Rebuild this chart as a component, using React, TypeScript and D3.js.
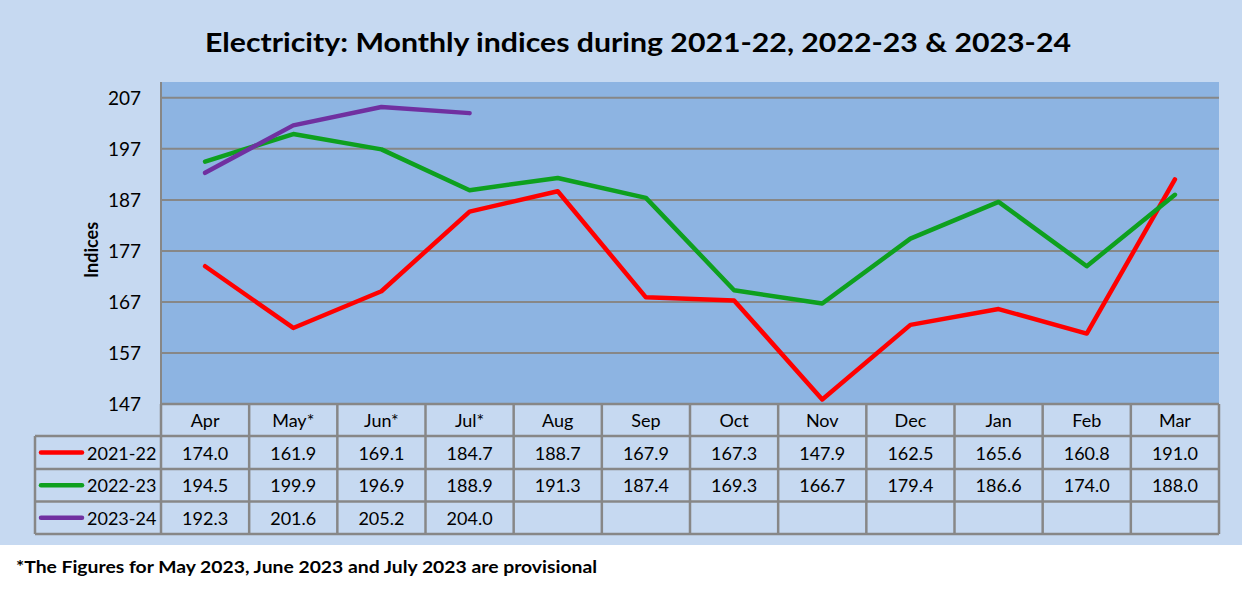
import React from "react";
import * as d3 from "d3";

const months = ["Apr", "May*", "Jun*", "Jul*", "Aug", "Sep", "Oct", "Nov", "Dec", "Jan", "Feb", "Mar"];
const s2021: (number | null)[] = [174.0, 161.9, 169.1, 184.7, 188.7, 167.9, 167.3, 147.9, 162.5, 165.6, 160.8, 191.0];
const s2022: (number | null)[] = [194.5, 199.9, 196.9, 188.9, 191.3, 187.4, 169.3, 166.7, 179.4, 186.6, 174.0, 188.0];
const s2023: (number | null)[] = [192.3, 201.6, 205.2, 204.0, null, null, null, null, null, null, null, null];
const seriesNames = ["2021-22", "2022-23", "2023-24"];
const seriesColors = ["#FF0000", "#0EA01E", "#7030A0"];
const yTicks = [147, 157, 167, 177, 187, 197, 207];

const W = 1242, H = 591;
const plotL = 161, plotR = 1219, plotT = 82, plotB = 404;
const rowH = [404, 436, 469, 501.5, 534];
const tableL = 35;
const outerBg = "#C6D9F1";
const plotBg = "#8DB4E2";
const grid = "#878787";
const FONT = "Lato, 'Open Sans', sans-serif";

export default function App() {
  const x = d3.scaleBand<string>().domain(months).range([plotL, plotR]);
  const y = d3.scaleLinear().domain([147, 210.1]).range([plotB, plotT]);
  const allSeries = [s2021, s2022, s2023];
  const line = d3
    .line<number | null>()
    .defined((d) => d != null)
    .x((_, i) => (x(months[i]) as number) + x.bandwidth() / 2)
    .y((d) => y(d as number));

  const colX = months.map((m) => x(m) as number);

  return (
    <svg width={W} height={H} style={{ position: "absolute", left: 0, top: 0 }} fontFamily={FONT}>
      <rect x={0} y={0} width={W} height={H} fill="#fff" />
      <rect x={0} y={0} width={W} height={545} fill={outerBg} />
      <text x={638} y={52} textAnchor="middle" fontSize={27} fontWeight="bold" fill="#000" textLength={866} lengthAdjust="spacingAndGlyphs">
        Electricity: Monthly indices during 2021-22, 2022-23 &amp; 2023-24
      </text>
      <rect x={plotL} y={plotT} width={plotR - plotL} height={plotB - plotT} fill={plotBg} />
      {yTicks.map((t) => (
        <g key={t}>
          {t !== 147 && <line x1={plotL} x2={plotR} y1={y(t)} y2={y(t)} stroke={grid} strokeWidth={2} />}
          <text x={141} y={y(t) + 7} textAnchor="end" fontSize={19} fill="#000">
            {t}
          </text>
        </g>
      ))}
      <line x1={plotL} x2={plotL} y1={plotT} y2={plotB} stroke={grid} strokeWidth={2} />
      <text transform={`translate(98,250) rotate(-90)`} textAnchor="middle" fontSize={18} fontWeight="bold" fill="#000">
        Indices
      </text>
      {allSeries.map((s, i) => (
        <path key={i} d={line(s) || ""} fill="none" stroke={seriesColors[i]} strokeWidth={4.5} strokeLinecap="round" strokeLinejoin="round" />
      ))}
      {/* data table */}
      <g stroke={grid} strokeWidth={2.5} fill="none">
        <line x1={plotL} x2={plotR} y1={rowH[0]} y2={rowH[0]} />
        {rowH.slice(1).map((r, i) => (
          <line key={i} x1={tableL} x2={plotR} y1={r} y2={r} />
        ))}
        <line x1={tableL} x2={tableL} y1={rowH[1]} y2={rowH[4]} />
        {colX.map((cx, i) => (
          <line key={i} x1={cx} x2={cx} y1={rowH[0]} y2={rowH[4]} />
        ))}
        <line x1={plotR} x2={plotR} y1={rowH[0]} y2={rowH[4]} />
      </g>
      {months.map((m, i) => (
        <text key={m} x={colX[i] + x.bandwidth() / 2} y={(rowH[0] + rowH[1]) / 2 + 7} textAnchor="middle" fontSize={18} fill="#000">
          {m}
        </text>
      ))}
      {allSeries.map((s, r) => {
        const cy = (rowH[r + 1] + rowH[r + 2]) / 2;
        return (
          <g key={r}>
            <line x1={41} x2={82} y1={cy} y2={cy} stroke={seriesColors[r]} strokeWidth={4.5} strokeLinecap="round" />
            <text x={87} y={cy + 7} fontSize={18} fill="#000">
              {seriesNames[r]}
            </text>
            {s.map((v, i) =>
              v == null ? null : (
                <text key={i} x={colX[i] + x.bandwidth() / 2} y={cy + 7} textAnchor="middle" fontSize={18} fill="#000">
                  {v.toFixed(1)}
                </text>
              )
            )}
          </g>
        );
      })}
      <text x={16} y={573} fontSize={17} fontWeight="bold" fill="#000" textLength={581} lengthAdjust="spacingAndGlyphs">
        *The Figures for May 2023, June 2023 and July 2023 are provisional
      </text>
    </svg>
  );
}
